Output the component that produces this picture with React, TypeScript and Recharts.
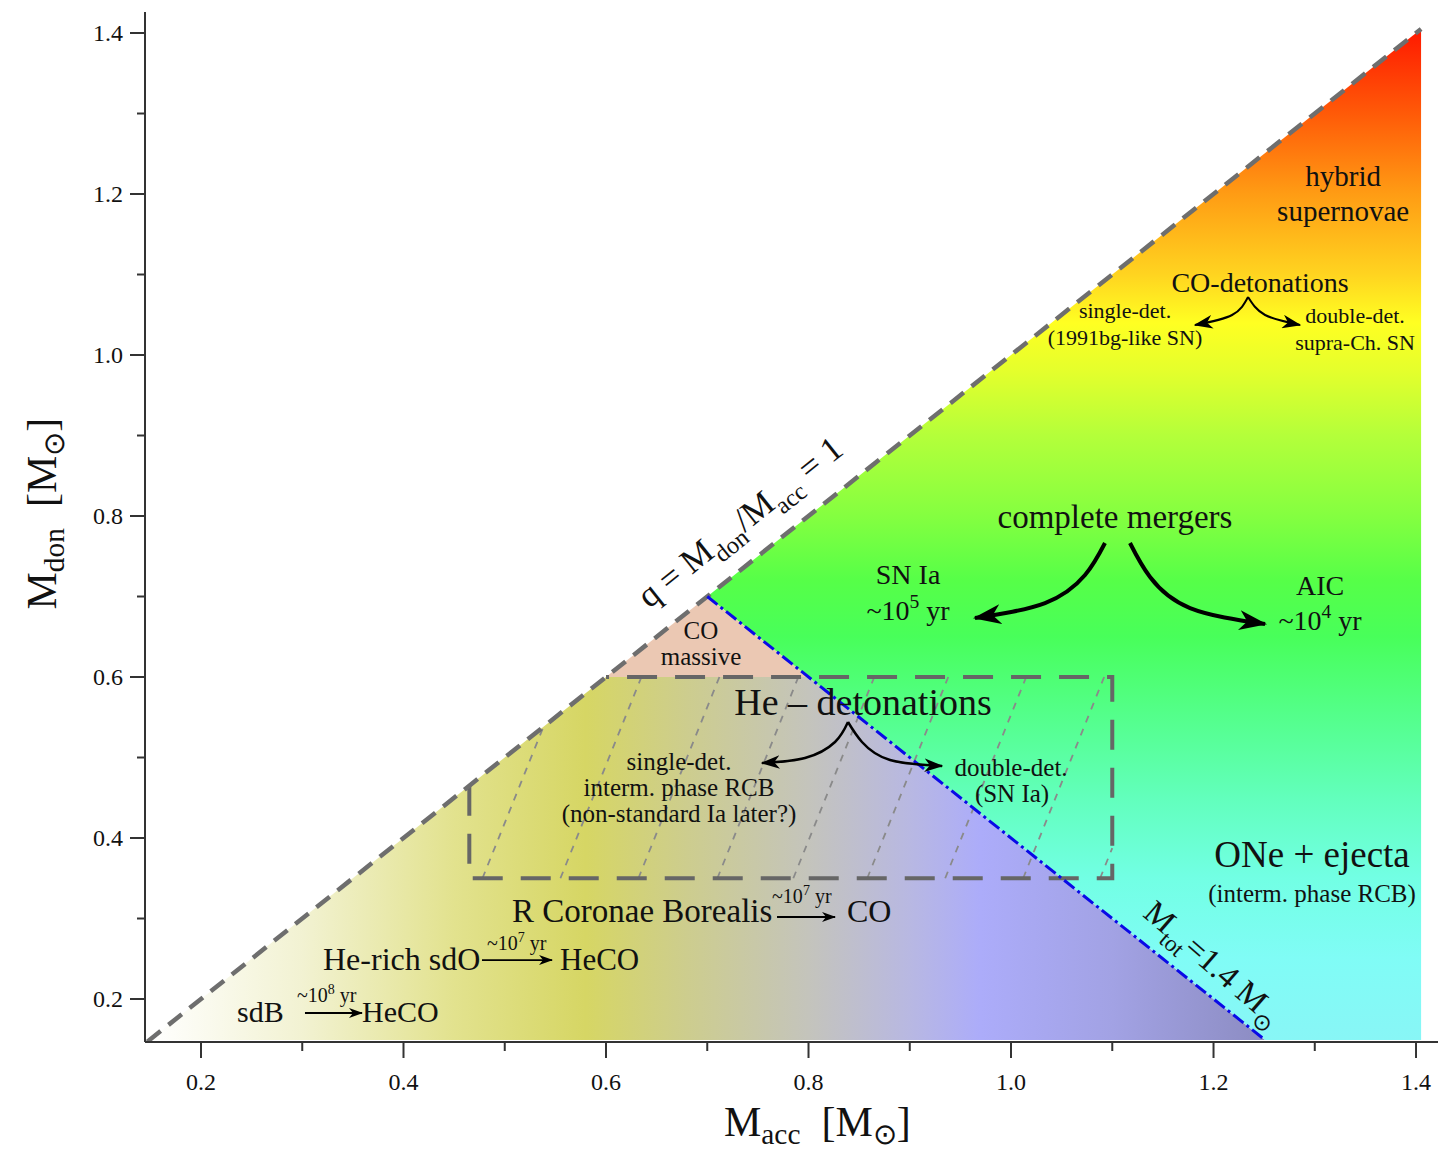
import React from 'react';
import { ComposedChart, XAxis, YAxis, Area, Line, Scatter } from 'recharts';

type Pt = { x: number; y: number };
type Note = { x: number; y: number; text: string; size: number; anchor?: 'start' | 'middle'; rotate?: number };

const FONT = "'Liberation Serif', 'Times New Roman', serif";

// axes (solar masses)
const xDomain: [number, number] = [0.1447, 1.4217];
const yDomain: [number, number] = [0.1466, 1.4261];
const xTicks = [0.2, 0.3, 0.4, 0.5, 0.6, 0.7, 0.8, 0.9, 1.0, 1.1, 1.2, 1.3, 1.4];
const yTicks = [0.2, 0.3, 0.4, 0.5, 0.6, 0.7, 0.8, 0.9, 1.0, 1.1, 1.2, 1.3, 1.4];

// regions, as lower / upper bounds of Mdon along Macc
const upperX = [0.7, 1.251, 1.405];
const upperLow = [0.7, 0.149, 0.149];
const upperHigh = [0.7, 1.251, 1.405];

const lowerX = [0.149, 0.6, 0.8, 1.251];
const lowerLow = [0.149, 0.149, 0.149, 0.149];
const lowerHigh = [0.149, 0.6, 0.6, 0.149];

const coX = [0.6, 0.7, 0.8];
const coLow = [0.6, 0.6, 0.6];
const coHigh = [0.6, 0.7, 0.6];

// boundary lines
const qLine: Pt[] = [{ x: 0.147, y: 0.147 }, { x: 1.405, y: 1.405 }];
const mTotLine: Pt[] = [{ x: 0.7, y: 0.7 }, { x: 1.251, y: 0.149 }];

// He-detonation box and its hatching
const boxX = [0.465, 0.465, 1.1, 1.1, 0.6];
const boxY = [0.465, 0.35, 0.35, 0.6, 0.6];
const hatchBottoms = [0.478, 0.555, 0.632, 0.71, 0.785, 0.858, 0.935, 1.012, 1.088];
const hatchSlope = 0.32;

// arrows
const mergerToSnIa: Pt[] = [{ x: 1.0928, y: 0.7665 }, { x: 1.0731, y: 0.7267 }, { x: 1.0336, y: 0.6919 }, { x: 0.9644, y: 0.6733 }];
const mergerToAic: Pt[] = [{ x: 1.1175, y: 0.7665 }, { x: 1.1373, y: 0.7242 }, { x: 1.1768, y: 0.6857 }, { x: 1.2509, y: 0.6658 }];
const heDetToSingle: Pt[] = [{ x: 0.839, y: 0.5441 }, { x: 0.8262, y: 0.5193 }, { x: 0.7965, y: 0.4994 }, { x: 0.7541, y: 0.4932 }];
const heDetToDouble: Pt[] = [{ x: 0.839, y: 0.5441 }, { x: 0.8528, y: 0.5193 }, { x: 0.8805, y: 0.4969 }, { x: 0.9319, y: 0.4894 }];
const coDetToSingle: Pt[] = [{ x: 1.2341, y: 1.072 }, { x: 1.2183, y: 1.0497 }, { x: 1.1817, y: 1.0373 }];
const coDetToDouble: Pt[] = [{ x: 1.2341, y: 1.072 }, { x: 1.2509, y: 1.0497 }, { x: 1.2854, y: 1.0373 }];
const sdbArrow: Pt[] = [{ x: 0.3027, y: 0.1826 }, { x: 0.359, y: 0.1826 }];
const sdoArrow: Pt[] = [{ x: 0.4775, y: 0.2484 }, { x: 0.5467, y: 0.2484 }];
const rcbArrow: Pt[] = [{ x: 0.7689, y: 0.3019 }, { x: 0.8262, y: 0.3019 }];

const notes: Note[] = [
  { x: 1.328, y: 1.21, text: 'hybrid', size: 29 },
  { x: 1.328, y: 1.1665, text: 'supernovae', size: 29 },
  { x: 1.246, y: 1.078, text: 'CO-detonations', size: 28 },
  { x: 1.1126, y: 1.046, text: 'single-det.', size: 22 },
  { x: 1.1126, y: 1.0124, text: '(1991bg-like SN)', size: 22 },
  { x: 1.3398, y: 1.0398, text: 'double-det.', size: 22 },
  { x: 1.3398, y: 1.0062, text: 'supra-Ch. SN', size: 22 },
  { x: 1.1027, y: 0.785, text: 'complete mergers', size: 33 },
  { x: 0.8983, y: 0.7155, text: 'SN Ia', size: 28 },
  { x: 0.8983, y: 0.6708, text: '~10^{5} yr', size: 28 },
  { x: 1.3052, y: 0.7019, text: 'AIC', size: 28 },
  { x: 1.3052, y: 0.6584, text: '~10^{4} yr', size: 28 },
  { x: 0.6938, y: 0.6475, text: 'CO', size: 25 },
  { x: 0.6938, y: 0.6149, text: 'massive', size: 25 },
  { x: 0.8538, y: 0.5528, text: 'He – detonations', size: 38 },
  { x: 0.6721, y: 0.4845, text: 'single-det.', size: 25 },
  { x: 0.6721, y: 0.4522, text: 'interm. phase RCB', size: 25 },
  { x: 0.6721, y: 0.4199, text: '(non-standard Ia later?)', size: 25 },
  { x: 1.0, y: 0.477, text: 'double-det.', size: 25 },
  { x: 1.001, y: 0.4447, text: '(SN Ia)', size: 25 },
  { x: 1.2973, y: 0.364, text: 'ONe + ejecta', size: 37 },
  { x: 1.2973, y: 0.3205, text: '(interm. phase RCB)', size: 25 },
  { x: 0.5072, y: 0.2957, text: 'R Coronae Borealis', size: 33, anchor: 'start' },
  { x: 0.764, y: 0.3193, text: '~10^{7} yr', size: 20, anchor: 'start' },
  { x: 0.838, y: 0.2957, text: 'CO', size: 32, anchor: 'start' },
  { x: 0.3205, y: 0.236, text: 'He-rich sdO', size: 32, anchor: 'start' },
  { x: 0.4825, y: 0.2609, text: '~10^{7} yr', size: 20, anchor: 'start' },
  { x: 0.5546, y: 0.236, text: 'HeCO', size: 31, anchor: 'start' },
  { x: 0.2356, y: 0.1714, text: 'sdB', size: 30, anchor: 'start' },
  { x: 0.2948, y: 0.1963, text: '~10^{8} yr', size: 20, anchor: 'start' },
  { x: 0.359, y: 0.1714, text: 'HeCO', size: 30, anchor: 'start' },
  { x: 0.7393, y: 0.7814, text: 'q = M_{don}/M_{acc} = 1', size: 35, rotate: -38.5 },
  { x: 1.1925, y: 0.2345, text: 'M_{tot}=1.4 M_{⊙}', size: 33, rotate: 41 },
];

// colour ramps: [Mdon, colour] for the upper region, [Macc, colour] for the lower one
const upperStops: [number, string][] = [
  [1.405, '#ff1800'], [1.3, '#ff5a08'], [1.2, '#ff9c14'], [1.1, '#ffd420'], [1.04, '#ffff22'],
  [0.98, '#e4ff2c'], [0.9, '#b4ff3a'], [0.8, '#84ff40'], [0.72, '#56ff48'], [0.65, '#48ff5a'],
  [0.55, '#54ff8c'], [0.45, '#62ffbc'], [0.35, '#72ffe4'], [0.25, '#80fcf6'], [0.149, '#88f6f6'],
];
const lowerStops: [number, string][] = [
  [0.149, '#ffffff'], [0.3, '#f2f2d2'], [0.45, '#e2e28e'], [0.58, '#d6d664'], [0.68, '#cdcd8e'],
  [0.8, '#c4c4bc'], [0.9, '#b8b8e2'], [0.97, '#acacfa'], [1.1, '#a2a2e4'], [1.251, '#8c8cc2'],
];

const toBand = (xs: number[], lo: number[], hi: number[]) => xs.map((x, i) => ({ x, band: [lo[i], hi[i]] }));
const upperData = toBand(upperX, upperLow, upperHigh);
const lowerData = toBand(lowerX, lowerLow, lowerHigh);
const coData = toBand(coX, coLow, coHigh);
const boxData = boxX.map((x, i) => ({ x, y: boxY[i] }));

// hatch segments clipped to the box and the q = 1 line
const hatchData = hatchBottoms.map((b) => {
  const y0 = boxY[1];
  const yRight = y0 + (boxX[2] - b) / hatchSlope;
  const yDiag = (b - y0 * hatchSlope) / (1 - hatchSlope);
  const yEnd = Math.min(boxY[3], yRight, yDiag);
  return [{ x: b, y: y0 }, { x: b + hatchSlope * (yEnd - y0), y: yEnd }];
});

const isMajor = (v: number) => Math.round(v * 10) % 2 === 0;

function richText(text: string, size: number, subShift = 0.28) {
  const parts: { t: string; kind: string }[] = [];
  const re = /([_^])\{([^}]*)\}/g;
  let last = 0;
  let m: RegExpExecArray | null;
  while ((m = re.exec(text))) {
    if (m.index > last) parts.push({ t: text.slice(last, m.index), kind: 'n' });
    parts.push({ t: m[2], kind: m[1] === '^' ? 'sup' : 'sub' });
    last = re.lastIndex;
  }
  if (last < text.length) parts.push({ t: text.slice(last), kind: 'n' });
  let shift = 0;
  return parts.map((p, i) => {
    const target = p.kind === 'sup' ? -size * 0.42 : p.kind === 'sub' ? size * subShift : 0;
    const dy = target - shift;
    shift = target;
    return (
      <tspan key={i} dy={dy} fontSize={p.kind === 'n' ? size : size * 0.7}>
        {p.t}
      </tspan>
    );
  });
}

const NoteShape = (props: any) => {
  const { cx, cy, payload } = props;
  const n = payload as Note;
  return (
    <text
      x={cx}
      y={cy}
      textAnchor={n.anchor ?? 'middle'}
      fontFamily={FONT}
      fontSize={n.size}
      fill="#111"
      transform={n.rotate ? `rotate(${n.rotate} ${cx} ${cy})` : undefined}
    >
      {richText(n.text, n.size)}
    </text>
  );
};

const XTick = (p: any) => {
  const v = p.payload.value as number;
  const major = isMajor(v);
  return (
    <g>
      <line x1={p.x} x2={p.x} y1={p.y} y2={p.y + (major ? 16 : 9)} stroke="#333" strokeWidth={2} />
      {major && (
        <text x={p.x} y={p.y + 48} textAnchor="middle" fontFamily={FONT} fontSize={24} fill="#111">
          {v.toFixed(1)}
        </text>
      )}
    </g>
  );
};

const YTick = (p: any) => {
  const v = p.payload.value as number;
  const major = isMajor(v);
  return (
    <g>
      <line x1={p.x - (major ? 15 : 8)} x2={p.x} y1={p.y} y2={p.y} stroke="#333" strokeWidth={2} />
      {major && (
        <text x={p.x - 22} y={p.y + 8} textAnchor="end" fontFamily={FONT} fontSize={24} fill="#111">
          {v.toFixed(1)}
        </text>
      )}
    </g>
  );
};

const XTitle = (p: any) => {
  const vb = p.viewBox;
  return (
    <text x={vb.x + vb.width * 0.52} y={vb.y + 94} textAnchor="middle" fontFamily={FONT} fontSize={42} fill="#111">
      {richText('M_{acc}\u2002[M_{⊙}]', 42, 0.18)}
    </text>
  );
};

const YTitle = (p: any) => {
  const vb = p.viewBox;
  const x = vb.x + 56;
  const y = vb.y + vb.height * 0.487;
  return (
    <text x={x} y={y} textAnchor="middle" fontFamily={FONT} fontSize={42} fill="#111" transform={`rotate(-90 ${x} ${y})`}>
      {richText('M_{don}\u2002[M_{⊙}]', 42, 0.18)}
    </text>
  );
};

const gradStops = (stops: [number, string][], from: number, to: number) =>
  stops.map(([v, c], i) => <stop key={i} offset={(v - from) / (to - from)} stopColor={c} />);

const arrow = (pts: Pt[], width: number, head: string, curve: 'natural' | 'linear') => (
  <Line
    data={pts}
    dataKey="y"
    type={curve}
    stroke="#000"
    strokeWidth={width}
    dot={false}
    activeDot={false}
    isAnimationActive={false}
    markerEnd={`url(#${head})`}
    legendType="none"
  />
);

export default function App() {
  return (
    <div style={{ position: 'absolute', left: 0, top: 0, width: 1438, height: 1149, background: '#fff' }}>
      <ComposedChart width={1438} height={1149} margin={{ top: 12, right: 0, bottom: 0, left: 0 }}>
        <defs>
          <linearGradient id="upperGrad" x1="0" y1="0" x2="0" y2="1">
            {gradStops(upperStops, upperHigh[2], upperLow[2])}
          </linearGradient>
          <linearGradient id="lowerGrad" x1="0" y1="0" x2="1" y2="0">
            {gradStops(lowerStops, lowerX[0], lowerX[lowerX.length - 1])}
          </linearGradient>
          <marker id="headBig" viewBox="0 0 28 20" refX="26" refY="10" markerWidth="28" markerHeight="20" markerUnits="userSpaceOnUse" orient="auto">
            <path d="M0,0 L28,10 L0,20 L8,10 Z" fill="#000" />
          </marker>
          <marker id="headMid" viewBox="0 0 28 20" refX="26" refY="10" markerWidth="19" markerHeight="14" markerUnits="userSpaceOnUse" orient="auto">
            <path d="M0,0 L28,10 L0,20 L8,10 Z" fill="#000" />
          </marker>
          <marker id="headSmall" viewBox="0 0 28 20" refX="26" refY="10" markerWidth="14" markerHeight="10" markerUnits="userSpaceOnUse" orient="auto">
            <path d="M0,0 L28,10 L0,20 L8,10 Z" fill="#000" />
          </marker>
        </defs>

        <XAxis
          dataKey="x"
          type="number"
          domain={xDomain}
          allowDataOverflow
          ticks={xTicks}
          interval={0}
          tick={<XTick />}
          tickLine={false}
          tickSize={0}
          tickMargin={0}
          height={107}
          axisLine={{ stroke: '#333', strokeWidth: 2 }}
          label={{ content: XTitle }}
        />
        <XAxis
          xAxisId="top"
          orientation="top"
          type="number"
          domain={xDomain}
          allowDataOverflow
          tick={false}
          tickLine={false}
          height={0}
          axisLine={{ stroke: '#333', strokeWidth: 2 }}
        />
        <YAxis
          type="number"
          domain={yDomain}
          allowDataOverflow
          ticks={yTicks}
          interval={0}
          tick={<YTick />}
          tickLine={false}
          tickSize={0}
          tickMargin={0}
          width={145}
          axisLine={{ stroke: '#333', strokeWidth: 2 }}
          label={{ content: YTitle }}
        />

        <Area data={lowerData} dataKey="band" type="linear" fill="url(#lowerGrad)" fillOpacity={1} stroke="none" isAnimationActive={false} legendType="none" />
        <Area data={upperData} dataKey="band" type="linear" fill="url(#upperGrad)" fillOpacity={1} stroke="none" isAnimationActive={false} legendType="none" />
        <Area data={coData} dataKey="band" type="linear" fill="#ebc8b3" fillOpacity={1} stroke="none" isAnimationActive={false} legendType="none" />

        {hatchData.map((seg, i) => (
          <Line key={`h${i}`} data={seg} dataKey="y" type="linear" stroke="#8a8a8a" strokeWidth={1.8} strokeDasharray="7 7" dot={false} activeDot={false} isAnimationActive={false} legendType="none" />
        ))}
        <Line data={boxData} dataKey="y" type="linear" stroke="#666" strokeWidth={4} strokeDasharray="30 18" dot={false} activeDot={false} isAnimationActive={false} legendType="none" />
        <Line data={qLine} dataKey="y" type="linear" stroke="#6e6e6e" strokeWidth={4.5} strokeDasharray="17 10" dot={false} activeDot={false} isAnimationActive={false} legendType="none" />
        <Line data={mTotLine} dataKey="y" type="linear" stroke="#0a0ae6" strokeWidth={3} strokeDasharray="13 4 3 4" dot={false} activeDot={false} isAnimationActive={false} legendType="none" />

        {arrow(mergerToSnIa, 4, 'headBig', 'natural')}
        {arrow(mergerToAic, 4, 'headBig', 'natural')}
        {arrow(heDetToSingle, 2.5, 'headMid', 'natural')}
        {arrow(heDetToDouble, 2.5, 'headMid', 'natural')}
        {arrow(coDetToSingle, 2, 'headMid', 'natural')}
        {arrow(coDetToDouble, 2, 'headMid', 'natural')}
        {arrow(sdbArrow, 1.8, 'headSmall', 'linear')}
        {arrow(sdoArrow, 1.8, 'headSmall', 'linear')}
        {arrow(rcbArrow, 1.8, 'headSmall', 'linear')}

        <Scatter data={notes} dataKey="y" shape={NoteShape} isAnimationActive={false} legendType="none" />
      </ComposedChart>
    </div>
  );
}
